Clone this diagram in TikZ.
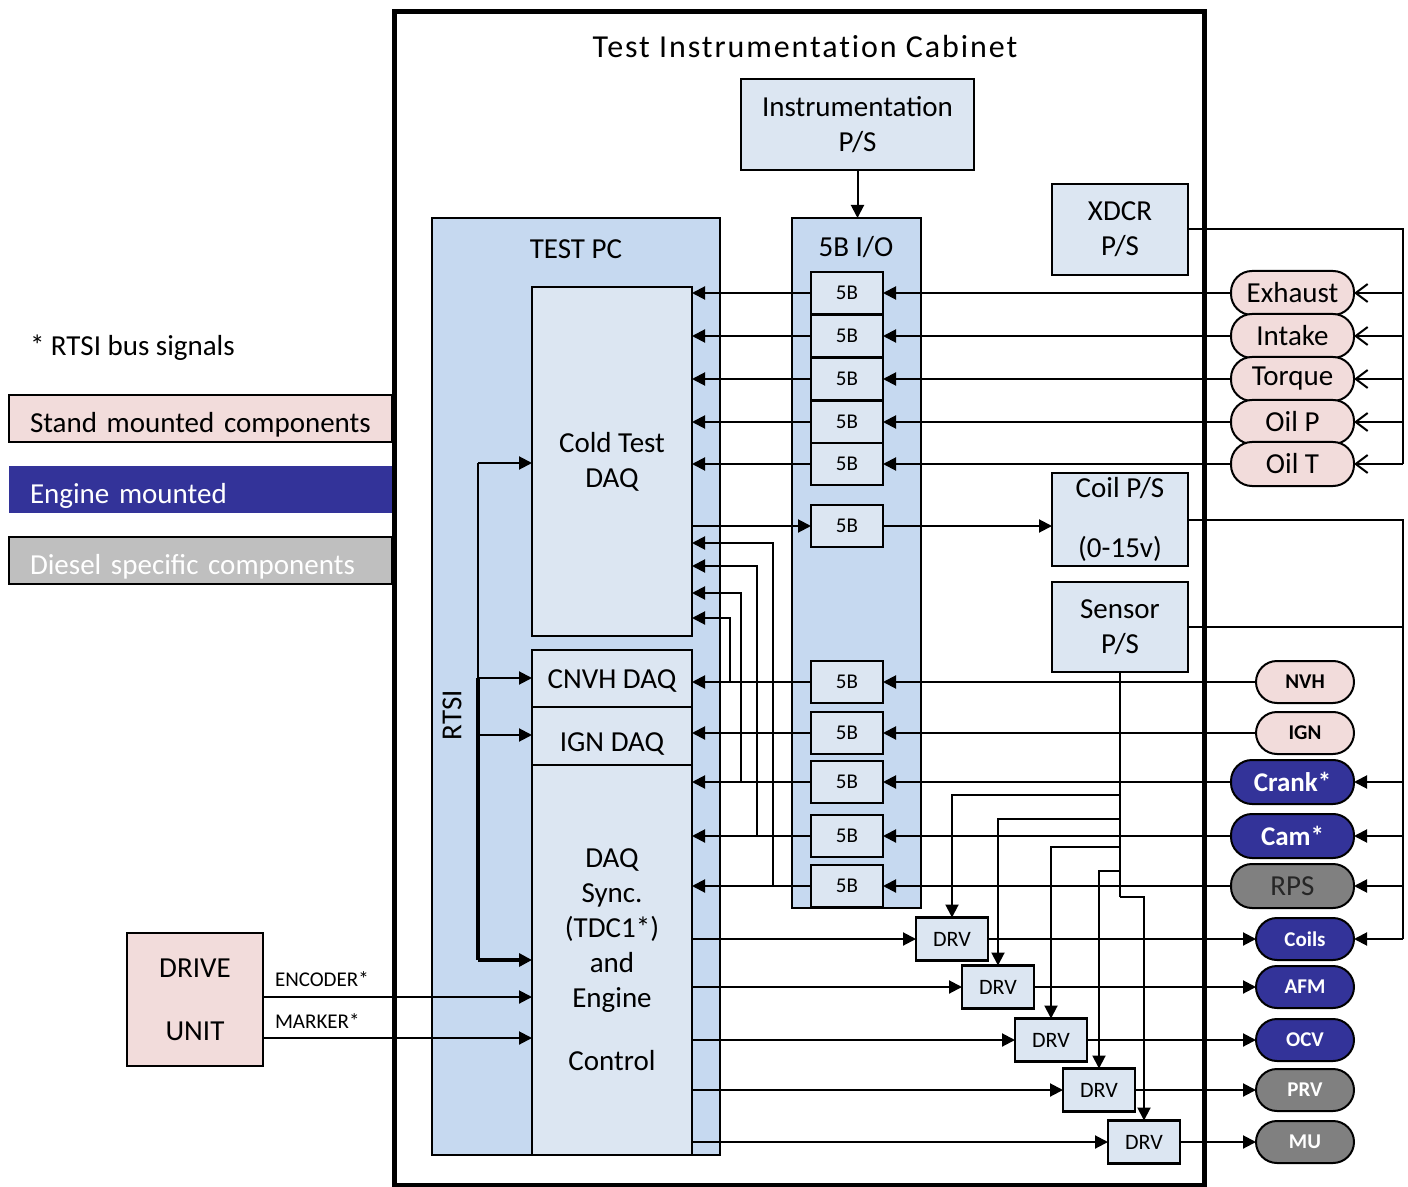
\documentclass[tikz,border=0pt]{standalone}
\usepackage{fontspec}
\setmainfont{Carlito}
\usepackage{tikz}
\usetikzlibrary{arrows.meta}
\definecolor{pcblue}{RGB}{198,217,240}
\definecolor{boxblue}{RGB}{220,230,242}
\definecolor{standpink}{RGB}{242,220,219}
\definecolor{engineblue}{RGB}{51,51,153}
\definecolor{dieselgray}{RGB}{128,128,128}
\definecolor{legendgray}{RGB}{191,191,191}

\begin{document}
\begin{tikzpicture}[x=0.5pt, y=-0.5pt, font=\fontsize{14.5}{17.5}\selectfont,
      every node/.append style={outer sep=0pt, align=center, inner sep=1pt},
      box/.style={draw, line width=1.2pt, fill=boxblue},
      fiveb/.style={box, minimum width=36pt, minimum height=21pt, font=\fontsize{10.5}{12}\selectfont},
      drv/.style={box, minimum width=36pt, minimum height=21.5pt, font=\fontsize{11}{13}\selectfont},
      stand/.style={draw, line width=1pt, fill=standpink, rounded corners=10.5pt, minimum width=61.5pt, minimum height=22pt},
      small/.style={minimum width=49pt, minimum height=21pt, font=\fontsize{10.5}{12}\selectfont\bfseries},
      engine/.style={stand, fill=engineblue, text=white},
      diesel/.style={stand, fill=dieselgray},
      legend/.style={anchor=north west, minimum height=23.5pt, text width=170.5pt, text height=15pt, text depth=1pt, inner xsep=10.5pt, align=left},
      tag/.style={pos=0, anchor=south west, xshift=5pt, yshift=4pt, font=\fontsize{10.5}{12}\selectfont},
      link/.style={line width=1pt},
      arr/.style={link, -{Triangle[length=6.5pt,width=6.5pt]}},
      barb/.style={link, -{Straight Barb[length=6pt,width=9pt]}}]
    \useasboundingbox (0,0) rectangle (1408,1187);
    \node (cab) [draw, line width=2.5pt, anchor=north west, minimum width=405pt, minimum height=586.5pt] at (394,12) {};
    \node (title) [font=\fontsize{16}{19}\selectfont\addfontfeatures{LetterSpace=6, Ligatures=NoCommon}] at (805,47) {Test Instrumentation Cabinet};
    \node (ips) [box, minimum width=116.5pt, minimum height=45.5pt] at (857.5,124.5) {Instrumentation\\P/S};
    \node (pc) [draw, line width=1.2pt, fill=pcblue, anchor=north west, minimum width=144pt, minimum height=468.5pt] at (432,218) {};
    \node (pctitle) at (576,249) {TEST PC};
    \node (io) [draw, line width=1.2pt, fill=pcblue, anchor=north west, minimum width=64.5pt, minimum height=345pt] at (792,218) {};
    \node (iotitle) at (856,247) {5B I/O};
    \node (xdcr) [box, minimum width=68pt, minimum height=45.5pt] at (1120,229.5) {XDCR\\P/S};
    \node (coil) [box, minimum width=68pt, minimum height=46.5pt] at (1120,519.5) {Coil P/S\\[12.5pt](0-15v)};
    \node (sens) [box, minimum width=68pt, minimum height=45pt] at (1120,627) {Sensor\\P/S};
    \node (ctd) [box, anchor=north west, minimum width=80pt, minimum height=174.5pt] at (532,287) {Cold Test\\DAQ};
    \node (cnvh) [box, anchor=north west, minimum width=80pt, minimum height=28.5pt, text height=12pt, text depth=2.5pt] at (532,650) {CNVH DAQ};
    \node (igndaq) [box, anchor=north west, minimum width=80pt, minimum height=29pt, text height=18pt, text depth=2.5pt] at (532,707) {IGN DAQ};
    \node (sync) [box, anchor=north west, minimum width=80pt, minimum height=195pt] at (532,765) {DAQ\\Sync.\\(TDC1*)\\and\\Engine\\[14pt]Control};
    \node (rtsi) [rotate=90] at (452,715) {RTSI};

    \node (b1) [fiveb] at (847,293) {5B};
    \node (b2) [fiveb] at (847,336) {5B};
    \node (b3) [fiveb] at (847,379) {5B};
    \node (b4) [fiveb] at (847,422) {5B};
    \node (b5) [fiveb] at (847,464) {5B};
    \node (b6) [fiveb] at (847,526) {5B};
    \node (b7) [fiveb] at (847,682) {5B};
    \node (b8) [fiveb] at (847,733) {5B};
    \node (b9) [fiveb] at (847,782) {5B};
    \node (b10) [fiveb] at (847,836) {5B};
    \node (b11) [fiveb] at (847,886) {5B};

    \node (exh) [stand] at (1292.5,293) {Exhaust};
    \node (intk) [stand] at (1292.5,336) {Intake};
    \node (torq) [stand] at (1292.5,379) {Torque};
    \node (oilp) [stand] at (1292.5,422) {Oil P};
    \node (oilt) [stand] at (1292.5,464) {Oil T};
    \node (nvh) [stand, small] at (1305,682) {NVH};
    \node (ign) [stand, small] at (1305,733) {IGN};
    \node (crank) [engine, font=\fontsize{13.5}{16}\selectfont\bfseries] at (1292.5,782) {Crank*};
    \node (cam) [engine, font=\fontsize{13.5}{16}\selectfont\bfseries] at (1292.5,836) {Cam*};
    \node (rps) [diesel, text=black!85] at (1292.5,886) {RPS};
    \node (coils) [engine, small] at (1305,939) {Coils};
    \node (afm) [engine, small] at (1305,987) {AFM};
    \node (ocv) [engine, small] at (1305,1040) {OCV};
    \node (prv) [diesel, small, text=white] at (1305,1090) {PRV};
    \node (mu) [diesel, small, text=white] at (1305,1142) {MU};

    \node (d1) [drv] at (952,939) {DRV};
    \node (d2) [drv] at (998,987) {DRV};
    \node (d3) [drv] at (1051,1040) {DRV};
    \node (d4) [drv] at (1099,1090) {DRV};
    \node (d5) [drv] at (1144,1142) {DRV};

    \node (drive) [draw, line width=1.2pt, fill=standpink, minimum width=68pt, minimum height=66.5pt] at (195,999.5) {DRIVE\\[14pt]UNIT};

    \node (note) [anchor=west] at (28,348) {* RTSI bus signals};
    \node (lgstand) [legend, draw, line width=1.2pt, fill=standpink] at (9,395) {Stand mounted components};
    \node (lgengine) [legend, fill=engineblue, text=white] at (9,466) {Engine mounted};
    \node (lgdiesel) [legend, draw, line width=1.2pt, fill=legendgray, text=white] at (9,537) {Diesel specific components};

    \coordinate (xbus) at (1403,229.5);
    \coordinate (cbus) at (1403,519.5);
    \coordinate (rtop) at (478,463);
    \coordinate (rcn) at (478,678);
    \coordinate (rig) at (478,735);
    \coordinate (rbot) at (478,960);
    \coordinate (jn) at (730,682);
    \coordinate (jc) at (741,782);
    \coordinate (jm) at (757,836);
    \coordinate (jr) at (773,886);
    \coordinate (en) at (692,618);
    \coordinate (ec) at (692,593);
    \coordinate (em) at (692,566);
    \coordinate (er) at (692,543);
    \coordinate (sa) at (1120,795);
    \coordinate (sb) at (1120,819);
    \coordinate (sc) at (1120,847);
    \coordinate (sd) at (1120,871);
    \coordinate (se) at (1120,897);
    \coordinate (enc) at (263,997);
    \coordinate (mrk) at (263,1038);

    \draw[arr] (ips.south) -- (ips.south |- io.north);

    \draw[link] (xdcr.east) -- (xbus) -- (xbus |- oilt.east);
    \draw[barb] (xbus |- exh.east) -- (exh.east);
    \draw[barb] (xbus |- intk.east) -- (intk.east);
    \draw[barb] (xbus |- torq.east) -- (torq.east);
    \draw[barb] (xbus |- oilp.east) -- (oilp.east);
    \draw[barb] (xbus |- oilt.east) -- (oilt.east);

    \draw[arr] (exh.west) -- (b1.east);
    \draw[arr] (intk.west) -- (b2.east);
    \draw[arr] (torq.west) -- (b3.east);
    \draw[arr] (oilp.west) -- (b4.east);
    \draw[arr] (oilt.west) -- (b5.east);
    \draw[arr] (b1.west) -- (b1.west -| ctd.east);
    \draw[arr] (b2.west) -- (b2.west -| ctd.east);
    \draw[arr] (b3.west) -- (b3.west -| ctd.east);
    \draw[arr] (b4.west) -- (b4.west -| ctd.east);
    \draw[arr] (b5.west) -- (b5.west -| ctd.east);
    \draw[arr] (ctd.east |- b6.west) -- (b6.west);
    \draw[arr] (b6.east) -- (b6.east -| coil.west);

    \draw[link] (coil.east) -- (cbus) -- (cbus |- coils.east);
    \draw[link] (sens.east) -- (sens.east -| cbus);
    \draw[arr] (cbus |- crank.east) -- (crank.east);
    \draw[arr] (cbus |- cam.east) -- (cam.east);
    \draw[arr] (cbus |- rps.east) -- (rps.east);
    \draw[arr] (cbus |- coils.east) -- (coils.east);

    \draw[arr] (nvh.west) -- (b7.east);
    \draw[arr] (ign.west) -- (b8.east);
    \draw[arr] (crank.west) -- (b9.east);
    \draw[arr] (cam.west) -- (b10.east);
    \draw[arr] (rps.west) -- (b11.east);
    \draw[arr] (b7.west) -- (b7.west -| cnvh.east);
    \draw[arr] (b8.west) -- (b8.west -| igndaq.east);
    \draw[arr] (b9.west) -- (b9.west -| sync.east);
    \draw[arr] (b10.west) -- (b10.west -| sync.east);
    \draw[arr] (b11.west) -- (b11.west -| sync.east);
    \draw[arr] (jn) |- (en);
    \draw[arr] (jc) |- (ec);
    \draw[arr] (jm) |- (em);
    \draw[arr] (jr) |- (er);

    \draw[link] (sens.south) -- (se);
    \draw[arr] (sa) -| (d1.north);
    \draw[arr] (sb) -| (d2.north);
    \draw[arr] (sc) -| (d3.north);
    \draw[arr] (sd) -| (d4.north);
    \draw[arr] (se) -| (d5.north);
    \draw[arr] (sync.east |- d1.west) -- (d1.west);
    \draw[arr] (sync.east |- d2.west) -- (d2.west);
    \draw[arr] (sync.east |- d3.west) -- (d3.west);
    \draw[arr] (sync.east |- d4.west) -- (d4.west);
    \draw[arr] (sync.east |- d5.west) -- (d5.west);
    \draw[arr] (d1.east) -- (coils.west);
    \draw[arr] (d2.east) -- (afm.west);
    \draw[arr] (d3.east) -- (ocv.west);
    \draw[arr] (d4.east) -- (prv.west);
    \draw[arr] (d5.east) -- (mu.west);

    \draw[link] (rtop) -- (rcn);
    \draw[link, line width=1.6pt] (rcn) -- (rbot);
    \draw[arr] (rtop) -- (rtop -| ctd.west);
    \draw[arr] (rcn) -- (rcn -| cnvh.west);
    \draw[arr] (rig) -- (rig -| igndaq.west);
    \draw[arr, line width=1.6pt] (rbot) -- (rbot -| sync.west);

    \draw[arr] (enc) -- (enc -| sync.west) node[tag] {ENCODER*};
    \draw[arr] (mrk) -- (mrk -| sync.west) node[tag] {MARKER*};
\end{tikzpicture}
\end{document}
